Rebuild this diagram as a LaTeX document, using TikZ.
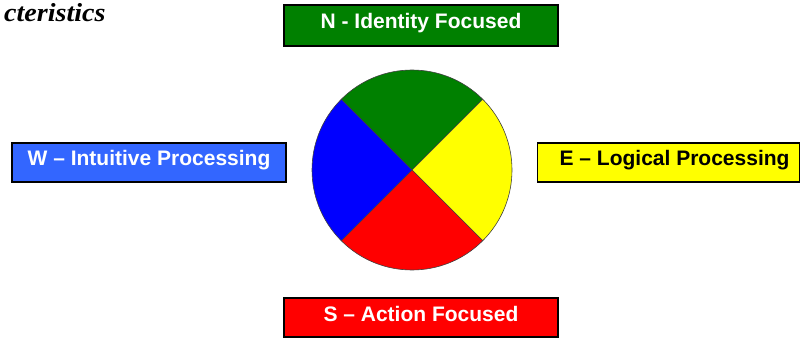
\documentclass[tikz,border=0pt]{standalone}
\usepackage{fontspec}
\setmainfont{Liberation Sans}
\newfontfamily\headfont[FakeStretch=1.08]{Liberation Serif}
\definecolor{ngreen}{HTML}{008000}
\definecolor{wblue}{HTML}{3366FF}
\definecolor{pblue}{HTML}{0000FF}
\definecolor{eyellow}{HTML}{FFFF00}
\definecolor{sred}{HTML}{FF0000}

\begin{document}
\begin{tikzpicture}[x=1pt, y=-1pt,
    quadbox/.style={draw=black, line width=1.2pt, minimum height=39pt, minimum width=274pt,
      inner sep=0pt, font=\fontsize{21}{25}\selectfont\bfseries,
      text height=15pt, text depth=8pt},
    slice/.style={draw=black!75, line width=0.6pt}]
  \useasboundingbox (0,0) rectangle (801,339);

  % heading in the top left corner
  \node[font=\headfont\fontsize{26}{28}\selectfont\bfseries\itshape, anchor=base west, inner sep=0pt] (title) at (4,22) {cteristics};

  % the wheel
  \coordinate (O) at (412,170);
  \filldraw[slice, fill=ngreen] (O) -- ++(225:100) arc[start angle=225, end angle=315, radius=100] -- cycle;
  \filldraw[slice, fill=eyellow] (O) -- ++(-45:100) arc[start angle=-45, end angle=45, radius=100] -- cycle;
  \filldraw[slice, fill=sred] (O) -- ++(45:100) arc[start angle=45, end angle=135, radius=100] -- cycle;
  \filldraw[slice, fill=pblue] (O) -- ++(135:100) arc[start angle=135, end angle=225, radius=100] -- cycle;

  % the four labels
  \node[quadbox, fill=ngreen, text=white, minimum height=41pt] (N) at (421,25.5) {N - Identity Focused};
  \node[quadbox, fill=wblue, text=white] (W) at (149,162.5) {W -- Intuitive Processing};
  \node[quadbox, fill=sred, text=white] (S) at (421,317.5) {S -- Action Focused};
  \node[quadbox, fill=eyellow, minimum width=262pt, anchor=west] (E) at (537,162.5) {};
  \node[quadbox, draw=none, minimum width=0pt, minimum height=0pt, anchor=west] (Etext) at ([xshift=22pt]E.west) {E -- Logical Processing};
\end{tikzpicture}
\end{document}
